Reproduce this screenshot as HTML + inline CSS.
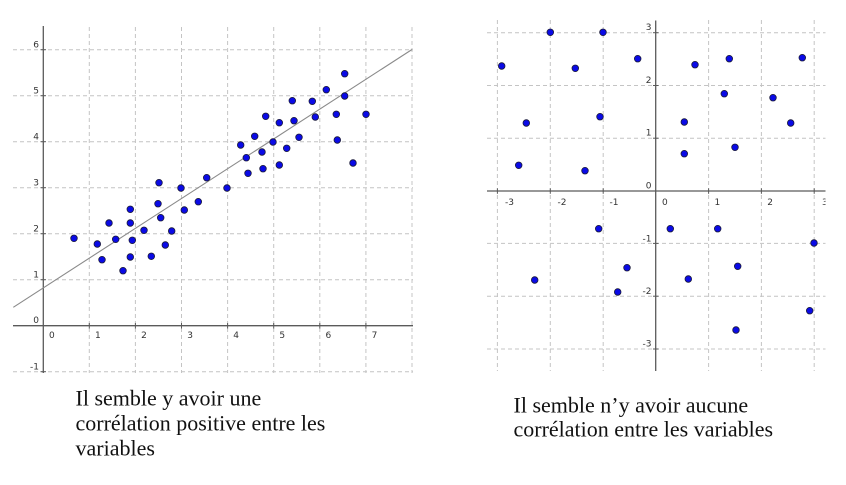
<!DOCTYPE html>
<html>
<head>
<meta charset="utf-8">
<style>
  html,body{margin:0;padding:0;background:#fff;}
  svg{display:block;}
  .g{stroke:#c4c4c4;stroke-width:1;stroke-dasharray:4 3;fill:none;}
  .ax{stroke:#5a5a5a;stroke-width:1.3;fill:none;}
  .t{font-family:"DejaVu Sans","Liberation Sans",sans-serif;font-size:9px;fill:#333;}
  .d{fill:#0a0ae6;stroke:#1a1a3a;stroke-width:0.8;}
  .cap{font-family:"Liberation Serif",serif;font-size:22px;fill:#111;}
</style>
</head>
<body>
<svg width="846" height="485" viewBox="0 0 846 485" xmlns="http://www.w3.org/2000/svg">
  <defs>
    <clipPath id="cl"><rect x="13" y="26" width="400" height="347"/></clipPath>
    <clipPath id="cr"><rect x="487" y="20" width="338.5" height="351"/></clipPath>
  </defs>

  <g clip-path="url(#cl)">
    <g class="g">
      <line x1="89.3" y1="27" x2="89.3" y2="373"/>
      <line x1="135.4" y1="27" x2="135.4" y2="373"/>
      <line x1="181.5" y1="27" x2="181.5" y2="373"/>
      <line x1="227.6" y1="27" x2="227.6" y2="373"/>
      <line x1="273.7" y1="27" x2="273.7" y2="373"/>
      <line x1="319.8" y1="27" x2="319.8" y2="373"/>
      <line x1="365.9" y1="27" x2="365.9" y2="373"/>
      <line x1="412" y1="27" x2="412" y2="373"/>
      <line x1="13" y1="49.7" x2="413" y2="49.7"/>
      <line x1="13" y1="95.7" x2="413" y2="95.7"/>
      <line x1="13" y1="141.7" x2="413" y2="141.7"/>
      <line x1="13" y1="187.7" x2="413" y2="187.7"/>
      <line x1="13" y1="233.7" x2="413" y2="233.7"/>
      <line x1="13" y1="279.7" x2="413" y2="279.7"/>
      <line x1="13" y1="371.7" x2="413" y2="371.7"/>
    </g>
    <line class="ax" x1="13" y1="325.7" x2="413" y2="325.7"/>
    <line class="ax" x1="43.3" y1="26" x2="43.3" y2="373"/>
    <g class="ax" style="stroke-width:1">
      <line x1="89.3" y1="323" x2="89.3" y2="328.5"/>
      <line x1="135.4" y1="323" x2="135.4" y2="328.5"/>
      <line x1="181.5" y1="323" x2="181.5" y2="328.5"/>
      <line x1="227.6" y1="323" x2="227.6" y2="328.5"/>
      <line x1="273.7" y1="323" x2="273.7" y2="328.5"/>
      <line x1="319.8" y1="323" x2="319.8" y2="328.5"/>
      <line x1="365.9" y1="323" x2="365.9" y2="328.5"/>
      <line x1="40.5" y1="49.7" x2="46" y2="49.7"/>
      <line x1="40.5" y1="95.7" x2="46" y2="95.7"/>
      <line x1="40.5" y1="141.7" x2="46" y2="141.7"/>
      <line x1="40.5" y1="187.7" x2="46" y2="187.7"/>
      <line x1="40.5" y1="233.7" x2="46" y2="233.7"/>
      <line x1="40.5" y1="279.7" x2="46" y2="279.7"/>
      <line x1="40.5" y1="371.7" x2="46" y2="371.7"/>
    </g>
    <line x1="13.3" y1="307.3" x2="412" y2="49.5" stroke="#8a8a8a" stroke-width="1.1"/>
    <g class="d">
      <circle cx="74" cy="238.3" r="3.3"/>
      <circle cx="97.3" cy="244" r="3.3"/>
      <circle cx="102" cy="259.7" r="3.3"/>
      <circle cx="109" cy="223" r="3.3"/>
      <circle cx="115.7" cy="239.3" r="3.3"/>
      <circle cx="123" cy="270.7" r="3.3"/>
      <circle cx="130.3" cy="209.3" r="3.3"/>
      <circle cx="130.3" cy="223" r="3.3"/>
      <circle cx="130.3" cy="257" r="3.3"/>
      <circle cx="132.3" cy="240.3" r="3.3"/>
      <circle cx="144" cy="230.3" r="3.3"/>
      <circle cx="151.3" cy="256.3" r="3.3"/>
      <circle cx="158" cy="203.7" r="3.3"/>
      <circle cx="159" cy="182.7" r="3.3"/>
      <circle cx="160.7" cy="217.7" r="3.3"/>
      <circle cx="165.3" cy="245" r="3.3"/>
      <circle cx="171.7" cy="231" r="3.3"/>
      <circle cx="181" cy="188" r="3.3"/>
      <circle cx="184.3" cy="210" r="3.3"/>
      <circle cx="198.3" cy="201.7" r="3.3"/>
      <circle cx="206.7" cy="177.7" r="3.3"/>
      <circle cx="227" cy="188" r="3.3"/>
      <circle cx="240.7" cy="145" r="3.3"/>
      <circle cx="246.3" cy="157.7" r="3.3"/>
      <circle cx="248" cy="173.3" r="3.3"/>
      <circle cx="254.7" cy="136.3" r="3.3"/>
      <circle cx="262" cy="152" r="3.3"/>
      <circle cx="263" cy="168.7" r="3.3"/>
      <circle cx="265.7" cy="116.3" r="3.3"/>
      <circle cx="273" cy="142" r="3.3"/>
      <circle cx="279.3" cy="122.7" r="3.3"/>
      <circle cx="279.3" cy="165" r="3.3"/>
      <circle cx="286.7" cy="148.3" r="3.3"/>
      <circle cx="292.3" cy="100.7" r="3.3"/>
      <circle cx="294" cy="120.7" r="3.3"/>
      <circle cx="299" cy="137.3" r="3.3"/>
      <circle cx="312.3" cy="101.3" r="3.3"/>
      <circle cx="315.3" cy="117" r="3.3"/>
      <circle cx="326.3" cy="89.7" r="3.3"/>
      <circle cx="336.3" cy="114.3" r="3.3"/>
      <circle cx="337.3" cy="140" r="3.3"/>
      <circle cx="344.7" cy="73.7" r="3.3"/>
      <circle cx="344.7" cy="96" r="3.3"/>
      <circle cx="353" cy="163" r="3.3"/>
      <circle cx="366" cy="114.3" r="3.3"/>
    </g>
  </g>
  <g class="t">
    <text x="39" y="47.5" text-anchor="end">6</text>
    <text x="39" y="93.5" text-anchor="end">5</text>
    <text x="39" y="139.5" text-anchor="end">4</text>
    <text x="39" y="185.5" text-anchor="end">3</text>
    <text x="39" y="231.5" text-anchor="end">2</text>
    <text x="39" y="277.5" text-anchor="end">1</text>
    <text x="39" y="323.2" text-anchor="end">0</text>
    <text x="39" y="369.5" text-anchor="end">-1</text>
    <text x="49" y="337.8">0</text>
    <text x="95" y="337.8">1</text>
    <text x="141.1" y="337.8">2</text>
    <text x="187.2" y="337.8">3</text>
    <text x="233.3" y="337.8">4</text>
    <text x="279.4" y="337.8">5</text>
    <text x="325.5" y="337.8">6</text>
    <text x="371.6" y="337.8">7</text>
  </g>

  <g clip-path="url(#cr)">
    <g class="g">
      <line x1="497.4" y1="20" x2="497.4" y2="371"/>
      <line x1="550.3" y1="20" x2="550.3" y2="371"/>
      <line x1="603.2" y1="20" x2="603.2" y2="371"/>
      <line x1="708.6" y1="20" x2="708.6" y2="371"/>
      <line x1="761.4" y1="20" x2="761.4" y2="371"/>
      <line x1="814.2" y1="20" x2="814.2" y2="371"/>
      <line x1="487" y1="32.7" x2="826" y2="32.7"/>
      <line x1="487" y1="85.5" x2="826" y2="85.5"/>
      <line x1="487" y1="138.2" x2="826" y2="138.2"/>
      <line x1="487" y1="243.4" x2="826" y2="243.4"/>
      <line x1="487" y1="296.2" x2="826" y2="296.2"/>
      <line x1="487" y1="349" x2="826" y2="349"/>
    </g>
    <line class="ax" x1="487" y1="191" x2="826" y2="191"/>
    <line class="ax" x1="655.7" y1="20.5" x2="655.7" y2="371"/>
    <g class="ax" style="stroke-width:1">
      <line x1="497.4" y1="188.3" x2="497.4" y2="193.8"/>
      <line x1="550.3" y1="188.3" x2="550.3" y2="193.8"/>
      <line x1="603.2" y1="188.3" x2="603.2" y2="193.8"/>
      <line x1="708.6" y1="188.3" x2="708.6" y2="193.8"/>
      <line x1="761.4" y1="188.3" x2="761.4" y2="193.8"/>
      <line x1="814.2" y1="188.3" x2="814.2" y2="193.8"/>
      <line x1="653" y1="32.7" x2="658.5" y2="32.7"/>
      <line x1="653" y1="85.5" x2="658.5" y2="85.5"/>
      <line x1="653" y1="138.2" x2="658.5" y2="138.2"/>
      <line x1="653" y1="243.4" x2="658.5" y2="243.4"/>
      <line x1="653" y1="296.2" x2="658.5" y2="296.2"/>
      <line x1="653" y1="349" x2="658.5" y2="349"/>
    </g>
    <g class="d">
      <circle cx="501.7" cy="66" r="3.3"/>
      <circle cx="550.3" cy="32.3" r="3.3"/>
      <circle cx="603" cy="32.3" r="3.3"/>
      <circle cx="637.7" cy="58.7" r="3.3"/>
      <circle cx="575.3" cy="68.3" r="3.3"/>
      <circle cx="526.3" cy="123" r="3.3"/>
      <circle cx="600" cy="116.7" r="3.3"/>
      <circle cx="518.7" cy="165.3" r="3.3"/>
      <circle cx="585" cy="170.7" r="3.3"/>
      <circle cx="695" cy="64.7" r="3.3"/>
      <circle cx="729.3" cy="58.7" r="3.3"/>
      <circle cx="802.3" cy="57.7" r="3.3"/>
      <circle cx="724.3" cy="93.7" r="3.3"/>
      <circle cx="773" cy="97.7" r="3.3"/>
      <circle cx="684.3" cy="122" r="3.3"/>
      <circle cx="790.7" cy="123" r="3.3"/>
      <circle cx="684.3" cy="153.7" r="3.3"/>
      <circle cx="735" cy="147.3" r="3.3"/>
      <circle cx="598.7" cy="228.7" r="3.3"/>
      <circle cx="670.3" cy="228.7" r="3.3"/>
      <circle cx="717.7" cy="228.7" r="3.3"/>
      <circle cx="814" cy="243" r="3.3"/>
      <circle cx="534.7" cy="280" r="3.3"/>
      <circle cx="627" cy="267.7" r="3.3"/>
      <circle cx="617.7" cy="292" r="3.3"/>
      <circle cx="688.3" cy="279" r="3.3"/>
      <circle cx="737.7" cy="266.3" r="3.3"/>
      <circle cx="809.7" cy="310.7" r="3.3"/>
      <circle cx="736" cy="330" r="3.3"/>
    </g>
    <g class="t">
      <text x="651.5" y="29.8" text-anchor="end">3</text>
      <text x="651.5" y="82.8" text-anchor="end">2</text>
      <text x="651.5" y="135.5" text-anchor="end">1</text>
      <text x="651.5" y="188.3" text-anchor="end">0</text>
      <text x="651.5" y="241.5" text-anchor="end">-1</text>
      <text x="651.5" y="294" text-anchor="end">-2</text>
      <text x="651.5" y="346.3" text-anchor="end">-3</text>
      <text x="505" y="205">-3</text>
      <text x="557.5" y="205">-2</text>
      <text x="609.5" y="205">-1</text>
      <text x="662" y="205">0</text>
      <text x="714.5" y="205">1</text>
      <text x="767.3" y="205">2</text>
      <text x="822" y="205">3</text>
    </g>
  </g>

  <text class="cap" x="75.5" y="405.7">Il semble y avoir une</text>
  <text class="cap" x="75.5" y="430.7">corrélation positive entre les</text>
  <text class="cap" x="75.5" y="455.7">variables</text>

  <text class="cap" x="513.5" y="412.7">Il semble n’y avoir aucune</text>
  <text class="cap" x="513.5" y="436.7">corrélation entre les variables</text>
</svg>
</body>
</html>
